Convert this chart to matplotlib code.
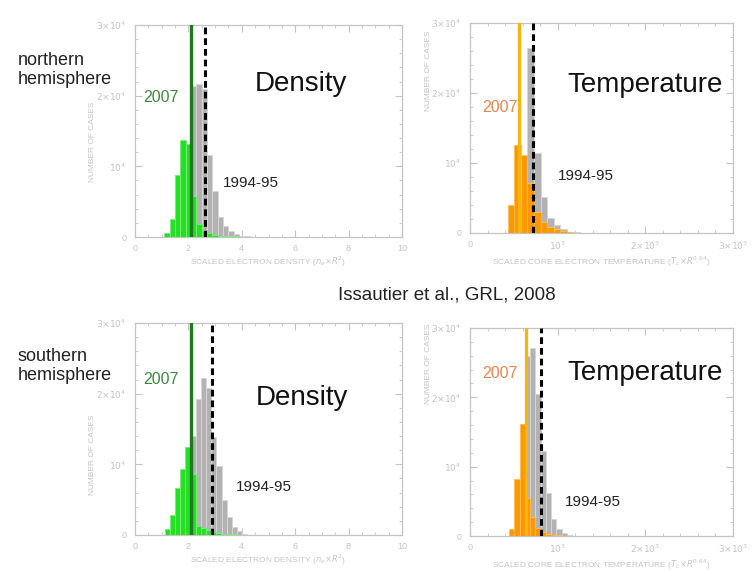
import matplotlib
matplotlib.use("Agg")
import matplotlib.pyplot as plt
from matplotlib.ticker import FixedLocator, MultipleLocator

# ---- data (bin left edges + counts) ----
# northern hemisphere, density (bin width 0.2)
dens_n_2007_edges = [1.1, 1.3, 1.5, 1.7, 1.9, 2.1, 2.3, 2.5, 2.7, 2.9, 3.1, 3.3,
                     3.5, 3.7, 3.9, 4.1, 4.3, 4.5, 4.7, 4.9]
dens_n_2007 = [500, 2600, 8800, 13700, 13200, 5800, 1800, 900, 500, 300, 200, 150,
               100, 80, 60, 50, 40, 30, 20, 15]
dens_n_9495_edges = [1.7, 1.9, 2.1, 2.3, 2.5, 2.7, 2.9, 3.1, 3.3, 3.5, 3.7, 3.9, 4.1, 4.3]
dens_n_9495 = [300, 8000, 21300, 21700, 21000, 11600, 6500, 2800, 1600, 800, 400, 200, 100, 50]
dens_n_mean = [2.1, 2.62]          # 2007, 1994-95

# southern hemisphere, density (bin width 0.19)
dens_s_2007_edges = [1.13, 1.32, 1.51, 1.70, 1.89, 2.08, 2.27, 2.46, 2.65, 2.84,
                     3.03, 3.22, 3.41, 3.60, 3.79]
dens_s_2007 = [800, 2900, 6600, 9300, 12400, 8600, 1300, 1000, 700, 450,
               300, 200, 120, 80, 40]
dens_s_9495_edges = [1.72, 1.91, 2.10, 2.29, 2.48, 2.67, 2.86, 3.05, 3.24, 3.43, 3.62, 3.81, 4.00]
dens_s_9495 = [1000, 6000, 14000, 19300, 22200, 20800, 13800, 9800, 4900, 2500, 1100, 500, 150]
dens_s_mean = [2.1, 2.87]

# northern hemisphere, temperature (bin width 75)
temp_n_2007_edges = [430, 505, 580, 655, 730, 805, 880, 955, 1030, 1105, 1180]
temp_n_2007 = [4000, 12600, 11100, 7200, 3000, 1600, 900, 500, 250, 120, 60]
temp_n_9495_edges = [580, 655, 730, 805, 880, 955, 1030, 1105, 1180]
temp_n_9495 = [9000, 26400, 11400, 5200, 2100, 1100, 500, 200, 80]
temp_n_mean = [560, 722]

# southern hemisphere, temperature (bin width 60)
temp_s_2007_edges = [445, 505, 565, 625, 685, 745, 805, 865, 925, 985]
temp_s_2007 = [1000, 8200, 16200, 5500, 2800, 1200, 600, 300, 150, 80]
temp_s_9495_edges = [565, 625, 685, 745, 805, 865, 925, 985, 1045, 1105]
temp_s_9495 = [9000, 26000, 27100, 20500, 12200, 6200, 2400, 1000, 400, 150]
temp_s_mean = [640, 806]

dens_ticks = [0, 2, 4, 6, 8, 10]
dens_ticklabels = ["0", "2", "4", "6", "8", "10"]
temp_ticks = [0, 1000, 2000, 3000]
temp_ticklabels = ["0", r"$10^3$", r"$2{\times}10^3$", r"$3{\times}10^3$"]
count_ticks = [0, 10000, 20000, 30000]
count_ticklabels = ["0", r"$10^4$", r"$2{\times}10^4$", r"$3{\times}10^4$"]

FAINT = "#c4c4c4"
GREY = "#b2b2b2"
GREEN = "#22e022"
DARKGREEN = "#1f7a1f"
ORANGE = "#ff9700"
YELLOW = "#f5b70f"

plt.rcParams["font.family"] = ["Liberation Sans", "DejaVu Sans"]
plt.rcParams["mathtext.fontset"] = "dejavusans"

fig = plt.figure(figsize=(7.53, 5.71), dpi=100)
W, H = 753.0, 571.0


def px_axes(x0, y0, x1, y1):
    return fig.add_axes([x0 / W, 1 - y1 / H, (x1 - x0) / W, (y1 - y0) / H])


def style(ax, xlim, xticks, xticklabels, xminor, xlabel, ylab_y):
    ax.set_xlim(*xlim)
    ax.set_ylim(0, 30000)
    ax.xaxis.set_major_locator(FixedLocator(xticks))
    ax.set_xticklabels(xticklabels)
    ax.xaxis.set_minor_locator(MultipleLocator(xminor))
    ax.yaxis.set_major_locator(FixedLocator(count_ticks))
    ax.set_yticklabels(count_ticklabels)
    ax.yaxis.set_minor_locator(MultipleLocator(2000))
    ax.tick_params(which="both", direction="in", top=True, right=True,
                   color=FAINT, labelcolor=FAINT, labelsize=6.5, pad=6)
    ax.tick_params(axis="x", which="both", pad=5)
    ax.tick_params(which="major", length=5, width=0.8)
    ax.tick_params(which="minor", length=2.5, width=0.6)
    for s in ax.spines.values():
        s.set_color(FAINT)
        s.set_linewidth(0.9)
    ax.set_xlabel(xlabel, fontsize=6, color=FAINT, labelpad=1.5)
    ax.set_ylabel("NUMBER OF CASES", fontsize=6, color=FAINT)
    ax.yaxis.set_label_coords(-0.145, ylab_y)


def panel(ax, e07, c07, e94, c94, width, means, col, edgecol, linecol):
    ax.bar(e94, c94, width=width, align="edge", color=GREY,
           edgecolor="#d6d6d6", linewidth=0.7, zorder=2)
    ax.bar(e07, c07, width=width, align="edge", color=col,
           edgecolor=edgecol, linewidth=0.7, zorder=3)
    ax.axvline(means[0], color=linecol, lw=2.4, zorder=4)
    ax.axvline(means[1], color="black", lw=2.2, ls=(0, (2.2, 1.3)), zorder=4)


dlabel = r"SCALED ELECTRON DENSITY ($n_e{\times}R^2$)"
tlabel = r"SCALED CORE ELECTRON TEMPERATURE ($T_c{\times}R^{0.64}$)"

ax1 = px_axes(135, 25, 402, 237)
panel(ax1, dens_n_2007_edges, dens_n_2007, dens_n_9495_edges, dens_n_9495, 0.2,
      dens_n_mean, GREEN, "#7cec7c", DARKGREEN)
style(ax1, (0, 10), dens_ticks, dens_ticklabels, 0.5, dlabel, 0.45)

ax2 = px_axes(470, 23, 733, 233)
panel(ax2, temp_n_2007_edges, temp_n_2007, temp_n_9495_edges, temp_n_9495, 75,
      temp_n_mean, ORANGE, "#ffbe55", YELLOW)
style(ax2, (0, 3000), temp_ticks, temp_ticklabels, 200, tlabel, 0.77)

ax3 = px_axes(135, 323, 402, 535)
panel(ax3, dens_s_2007_edges, dens_s_2007, dens_s_9495_edges, dens_s_9495, 0.19,
      dens_s_mean, GREEN, "#7cec7c", DARKGREEN)
style(ax3, (0, 10), dens_ticks, dens_ticklabels, 0.5, dlabel, 0.38)

ax4 = px_axes(470, 328, 733, 536)
panel(ax4, temp_s_2007_edges, temp_s_2007, temp_s_9495_edges, temp_s_9495, 60,
      temp_s_mean, ORANGE, "#ffbe55", YELLOW)
style(ax4, (0, 3000), temp_ticks, temp_ticklabels, 200, tlabel, 0.83)


def ftext(x, y, s, **kw):
    fig.text(x / W, 1 - y / H, s, **kw)


ftext(18, 70, "northern\nhemisphere", fontsize=13, color="#222222",
      va="center", ha="left", linespacing=1.1)
ftext(18, 366, "southern\nhemisphere", fontsize=13, color="#222222",
      va="center", ha="left", linespacing=1.1)
ftext(447, 295, "Issautier et al., GRL, 2008", fontsize=13.5, color="#222222",
      ha="center", va="center")

ftext(301, 84, "Density", fontsize=20, ha="center", va="center", color="#111111")
ftext(302, 398, "Density", fontsize=20, ha="center", va="center", color="#111111")
ftext(645, 85, "Temperature", fontsize=20, ha="center", va="center", color="#111111")
ftext(645, 373, "Temperature", fontsize=20, ha="center", va="center", color="#111111")

ftext(161, 97, "2007", fontsize=11.5, ha="center", va="center", color="#3a8c3a")
ftext(161, 380, "2007", fontsize=11.5, ha="center", va="center", color="#3a8c3a")
ftext(500, 107, "2007", fontsize=11.5, ha="center", va="center", color="#e8854a")
ftext(500, 373, "2007", fontsize=11.5, ha="center", va="center", color="#e8854a")

ftext(251, 183, "1994-95", fontsize=11, ha="center", va="center", color="#222222")
ftext(264, 487, "1994-95", fontsize=11, ha="center", va="center", color="#222222")
ftext(586, 176, "1994-95", fontsize=11, ha="center", va="center", color="#222222")
ftext(593, 502, "1994-95", fontsize=11, ha="center", va="center", color="#222222")

fig.savefig("out.png", dpi=100)
